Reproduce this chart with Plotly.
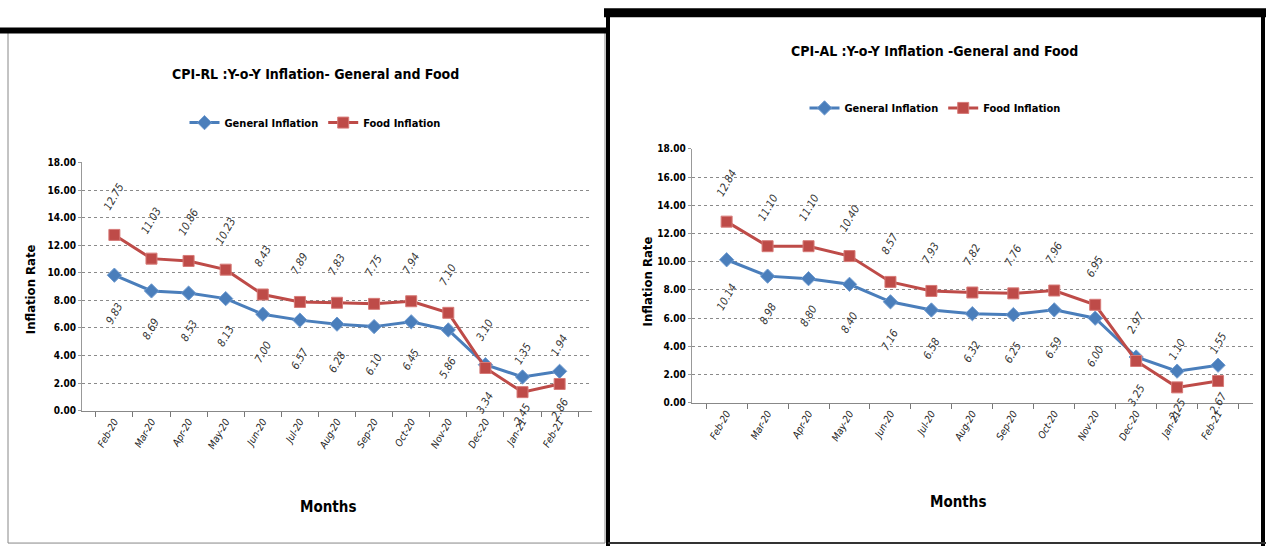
import plotly.graph_objects as go

months = ["Feb-20", "Mar-20", "Apr-20", "May-20", "Jun-20", "Jul-20", "Aug-20",
          "Sep-20", "Oct-20", "Nov-20", "Dec-20", "Jan-21", "Feb-21"]

rl_general = [9.83, 8.69, 8.53, 8.13, 7.00, 6.57, 6.28, 6.10, 6.45, 5.86, 3.34, 2.45, 2.86]
rl_food = [12.75, 11.03, 10.86, 10.23, 8.43, 7.89, 7.83, 7.75, 7.94, 7.10, 3.10, 1.35, 1.94]

al_general = [10.14, 8.98, 8.80, 8.40, 7.16, 6.58, 6.32, 6.25, 6.59, 6.00, 3.25, 2.25, 2.67]
al_food = [12.84, 11.10, 11.10, 10.40, 8.57, 7.93, 7.82, 7.76, 7.96, 6.95, 2.97, 1.10, 1.55]

yticks = [0, 2, 4, 6, 8, 10, 12, 14, 16, 18]

BLUE = "#4A7EBB"
RED = "#BE4B48"
FONT = "Liberation Sans Narrow, Arial Narrow, DejaVu Sans Condensed, sans-serif"

W, H = 1266, 552
def px(x):
    return x / W
def py(y):
    return (H - y) / H

fig = go.Figure()

panels = [
    dict(xa="x", ya="y", gen=rl_general, food=rl_food, legend="legend"),
    dict(xa="x2", ya="y2", gen=al_general, food=al_food, legend="legend2"),
]

for p in panels:
    fig.add_trace(go.Scatter(
        x=months, y=p["gen"], xaxis=p["xa"], yaxis=p["ya"], mode="lines+markers",
        name="General Inflation", legend=p["legend"],
        line=dict(color=BLUE, width=3),
        marker=dict(symbol="diamond", size=11, color=BLUE, line=dict(color="#6f9bd0", width=1)),
    ))
    fig.add_trace(go.Scatter(
        x=months, y=p["food"], xaxis=p["xa"], yaxis=p["ya"], mode="lines+markers",
        name="Food Inflation", legend=p["legend"],
        line=dict(color=RED, width=3),
        marker=dict(symbol="square", size=11, color=RED, line=dict(color="#d77b78", width=1)),
    ))
    for m, g, f in zip(months, p["gen"], p["food"]):
        fig.add_annotation(x=m, y=f, xref=p["xa"], yref=p["ya"], text=f"{f:.2f}",
                           showarrow=False, textangle=-60, yshift=38,
                           font=dict(family=FONT, size=11, color="#333333", style="italic"))
        fig.add_annotation(x=m, y=g, xref=p["xa"], yref=p["ya"], text=f"{g:.2f}",
                           showarrow=False, textangle=-60, yshift=-38,
                           font=dict(family=FONT, size=11, color="#333333", style="italic"))

axis_common_x = dict(
    type="category", tickangle=-60, tickson="boundaries", ticks="outside", ticklen=5,
    tickcolor="#777", showline=True, linecolor="#888", linewidth=1,
    showgrid=False, tickfont=dict(family=FONT, size=10, color="#222", style="italic"),
)
axis_common_y = dict(
    range=[0, 18], tickvals=yticks, tickformat=".2f", showgrid=True,
    gridcolor="#8a8a8a", griddash="dot", gridwidth=1, showline=True, linecolor="#999",
    ticks="outside", ticklen=3, tickcolor="#999", zeroline=False,
    tickfont=dict(family=FONT, size=10, color="#000", weight="bold"),
)

fig.update_layout(
    width=W, height=H, margin=dict(l=0, r=0, t=0, b=0),
    paper_bgcolor="white", plot_bgcolor="white",
    xaxis=dict(domain=[px(82), px(592)], anchor="y", **axis_common_x),
    yaxis=dict(domain=[py(414), py(160.7)], anchor="x", **axis_common_y),
    xaxis2=dict(domain=[px(691.7), px(1253)], anchor="y2", **axis_common_x),
    yaxis2=dict(domain=[py(406), py(146.7)], anchor="x2", **axis_common_y),
    legend=dict(orientation="h", x=px(315), y=py(120), xanchor="center", yanchor="middle",
                font=dict(family=FONT, size=11, color="#000", weight="bold"),
                bgcolor="rgba(0,0,0,0)"),
    legend2=dict(orientation="h", x=px(935), y=py(105), xanchor="center", yanchor="middle",
                 font=dict(family=FONT, size=11, color="#000", weight="bold"),
                 bgcolor="rgba(0,0,0,0)"),
)

title_font = dict(family=FONT, size=14, color="#000", weight="bold")
axis_title_font = dict(family=FONT, size=13, color="#000", weight="bold")

def paper_text(x, y, text, font, angle=0):
    fig.add_annotation(x=px(x), y=py(y), xref="paper", yref="paper", showarrow=False,
                       xanchor="center", yanchor="middle", text=text, font=font,
                       textangle=angle)

paper_text(315, 70, "CPI-RL :Y-o-Y Inflation- General and Food", title_font)
paper_text(935, 47, "CPI-AL :Y-o-Y Inflation -General and Food", title_font)
paper_text(30, 290, "Inflation Rate", axis_title_font, -90)
paper_text(647, 282, "Inflation Rate", axis_title_font, -90)
paper_text(328, 512, "Months", dict(family=FONT, size=15, color="#000", weight="bold"))
paper_text(958, 507, "Months", dict(family=FONT, size=15, color="#000", weight="bold"))

# panel frames
fig.add_shape(type="rect", xref="paper", yref="paper", x0=px(8), x1=px(605), y0=py(549), y1=py(28),
              line=dict(color="#888", width=1))
fig.add_shape(type="line", xref="paper", yref="paper", x0=0, x1=px(606), y0=py(26), y1=py(26),
              line=dict(color="#000", width=6))
fig.add_shape(type="line", xref="paper", yref="paper", x0=px(604), x1=1, y0=py(8), y1=py(8),
              line=dict(color="#000", width=9))
fig.add_shape(type="line", xref="paper", yref="paper", x0=px(608), x1=px(608), y0=py(552), y1=py(4),
              line=dict(color="#000", width=4))
fig.add_shape(type="line", xref="paper", yref="paper", x0=px(1263), x1=px(1263), y0=py(552), y1=py(4),
              line=dict(color="#000", width=4))
fig.add_shape(type="line", xref="paper", yref="paper", x0=px(608), x1=1, y0=py(549), y1=py(549),
              line=dict(color="#333", width=2))

fig.write_html("out.html", config={"displayModeBar": False},
               post_script="document.body.style.margin='0px';")
